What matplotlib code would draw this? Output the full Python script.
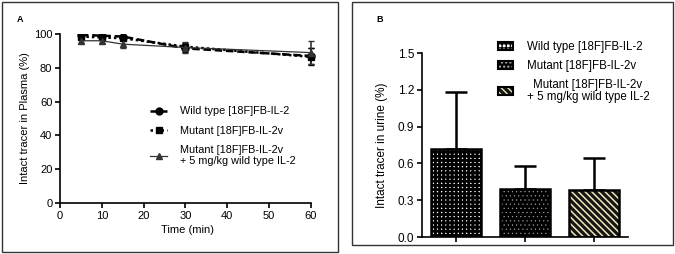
import numpy as np
import matplotlib
matplotlib.use("Agg")
import matplotlib.pyplot as plt
from matplotlib.patches import Rectangle, Patch
from matplotlib.lines import Line2D

plt.rcParams['font.family'] = ['Liberation Sans', 'DejaVu Sans']

# panel A data
time_min = [5, 10, 15, 30, 60]
wild_plasma = [99.5, 99.0, 98.5, 91.5, 87.0]
wild_err = [1.0, 1.0, 1.2, 2.0, 5.0]
mutant_plasma = [98.5, 98.0, 97.5, 92.5, 86.5]
mutant_err = [1.0, 1.0, 1.0, 2.0, 5.0]
block_plasma = [96.0, 96.0, 94.0, 92.0, 89.0]
block_err = [1.5, 1.5, 2.5, 3.0, 7.0]
series_labels = ["Wild type [18F]FB-IL-2", "Mutant [18F]FB-IL-2v",
                 "Mutant [18F]FB-IL-2v\n+ 5 mg/kg wild type IL-2"]

# panel B data
urine = [0.72, 0.39, 0.38]
urine_err = [0.46, 0.19, 0.26]

W, H = 675, 254
fig = plt.figure(figsize=(W / 100, H / 100), dpi=100)

# panel borders
fig.patches.append(Rectangle((2 / W, 2 / H), 336 / W, 250 / H, transform=fig.transFigure,
                             fill=False, edgecolor='#333333', linewidth=1.0))
fig.patches.append(Rectangle((352 / W, 9 / H), 321 / W, 243 / H, transform=fig.transFigure,
                             fill=False, edgecolor='#333333', linewidth=1.0))

# ---------- panel A
ax = fig.add_axes([60 / W, 1 - 203 / H, 255 / W, 169 / H])
styles = [dict(color='black', ls=(0, (3, 1.5)), lw=1.8, marker='o', ms=5),
          dict(color='black', ls=(0, (1, 1.2)), lw=1.8, marker='s', ms=4.5),
          dict(color='#333333', ls='-', lw=0.9, marker='^', ms=4)]
for yv, ye, st in zip([wild_plasma, mutant_plasma, block_plasma],
                      [wild_err, mutant_err, block_err], styles):
    ax.errorbar(time_min, yv, yerr=ye, capsize=2, elinewidth=1.2, **st)
ax.set_xlim(0, 61)
ax.set_ylim(0, 100)
ax.set_xticks(range(0, 61, 10))
ax.set_yticks(range(0, 101, 20))
ax.spines['top'].set_visible(False)
ax.spines['right'].set_visible(False)
ax.spines['left'].set_bounds(0, 100)
ax.spines['bottom'].set_bounds(0, 60)
for s in ['left', 'bottom']:
    ax.spines[s].set_linewidth(1.2)
ax.tick_params(width=1.2, length=3.5, labelsize=8, pad=2)
ax.set_xlabel("Time (min)", fontsize=8, labelpad=3)
ax.set_ylabel("Intact tracer in Plasma (%)", fontsize=8, labelpad=3)
hA = [Line2D([], [], **st) for st in styles]
legA = ax.legend(hA, series_labels, loc='upper left', bbox_to_anchor=(145 / W, 1 - 101 / H),
                 bbox_transform=fig.transFigure, frameon=False, fontsize=7.8,
                 handlelength=1.5, handletextpad=1.2, labelspacing=0.85, borderpad=0)
fig.text(20 / W, 1 - 20 / H, "A", fontsize=6.5, fontweight='bold', ha='center', va='center')

# ---------- panel B
bx = fig.add_axes([422 / W, 1 - 237 / H, 206 / W, 184 / H])
xpos = np.arange(len(urine))
bw = 0.73
bx.errorbar(xpos, urine, yerr=[[0] * 3, urine_err], fmt='none', ecolor='black',
            elinewidth=1.8, capsize=8, capthick=1.8, zorder=1)
fills = [dict(color='white', edgecolor='black', hatch='++++', hl=2.0),
         dict(color='black', edgecolor='#b0b0b0', hatch='....', hl=0.3),
         dict(color='#151515', edgecolor='#efe6b8', hatch='\\' * 5, hl=1.1)]
for i, f in enumerate(fills):
    with plt.rc_context({'hatch.linewidth': f['hl']}):
        bx.bar(xpos[i], urine[i], bw, color=f['color'], edgecolor=f['edgecolor'],
               hatch=f['hatch'], lw=0, zorder=2)
bx.bar(xpos, urine, bw, fill=False, edgecolor='black', lw=1.8, zorder=3)
bx.set_xlim(-0.5, 2.5)
bx.set_ylim(0, 1.5)
bx.set_yticks([0.0, 0.3, 0.6, 0.9, 1.2, 1.5])
bx.set_yticklabels(["0.0", "0.3", "0.6", "0.9", "1.2", "1.5"])
bx.set_xticks(xpos)
bx.set_xticklabels([])
bx.spines['top'].set_visible(False)
bx.spines['right'].set_visible(False)
for s in ['left', 'bottom']:
    bx.spines[s].set_linewidth(1.2)
bx.tick_params(width=1.2, length=3.5, labelsize=8.5, pad=2)
bx.set_ylabel("Intact tracer in urine (%)", fontsize=8.5, labelpad=7)

hB = []
for f in fills:
    with plt.rc_context({'hatch.linewidth': f['hl']}):
        inner = Patch(facecolor=f['color'], edgecolor=f['edgecolor'], hatch=f['hatch'], lw=0)
    outer = Patch(facecolor='none', edgecolor='black', lw=1.5)
    hB.append((inner, outer))
legB = bx.legend(hB, series_labels, loc='upper left', bbox_to_anchor=(492 / W, 1 - 35 / H),
                 bbox_transform=fig.transFigure, frameon=False, fontsize=8.3,
                 handlelength=1.3, handleheight=0.7, handletextpad=1.2,
                 labelspacing=0.6, borderpad=0)
for t in legB.get_texts():
    t.set_multialignment('center')
    t.set_linespacing(1.0)
fig.text(380 / W, 1 - 20 / H, "B", fontsize=6.5, fontweight='bold', ha='center', va='center')

fig.savefig("out.png", dpi=100)
